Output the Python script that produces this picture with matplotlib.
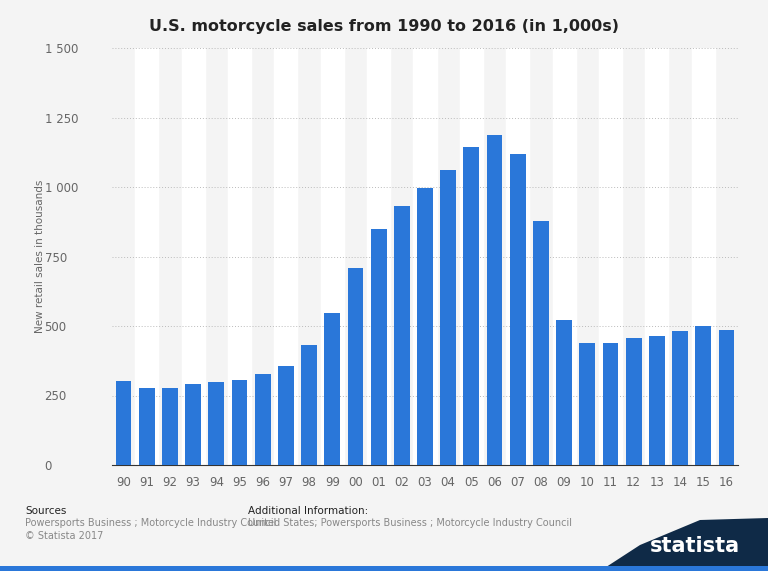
import matplotlib.pyplot as plt
import matplotlib.patches as patches

years = ['90', '91', '92', '93', '94', '95', '96', '97', '98', '99', '00', '01', '02', '03',
         '04', '05', '06', '07', '08', '09', '10', '11', '12', '13', '14', '15', '16']
sales = [301, 278, 278, 290, 300, 305, 327, 355, 430, 545, 710, 848, 932, 995,
         1060, 1145, 1187, 1118, 877, 520, 440, 440, 457, 465, 482, 500, 485]
yticks = [0, 250, 500, 750, 1000, 1250, 1500]
ylabels = ['0', '250', '500', '750', '1 000', '1 250', '1 500']

fig = plt.figure(figsize=(7.68, 5.71), dpi=100, facecolor='#f4f4f4')
ax = fig.add_axes([112/768, 1-465/571, 626/768, 417/571])
ax.set_facecolor('#f4f4f4')

x = range(len(years))
for i in x:
    if i % 2 == 1:
        ax.axvspan(i - 0.5, i + 0.5, color='white', zorder=0)
ax.bar(x, sales, width=0.68, color='#2a77d9', zorder=3)

ax.set_xlim(-0.5, len(years) - 0.5)
ax.set_ylim(0, 1500)
ax.set_yticks(yticks)
ax.set_yticklabels(ylabels, color='#666666', fontsize=8.5)
ax.set_xticks(list(x))
ax.set_xticklabels(years, color='#666666', fontsize=8.5)
ax.tick_params(length=0, pad=8)
ax.yaxis.grid(True, color='#bbbbbb', linestyle=(0, (1, 2)), linewidth=0.7, zorder=1)
for s in ['top', 'right', 'left']:
    ax.spines[s].set_visible(False)
ax.spines['bottom'].set_color('#333333')
for lab in ax.get_yticklabels():
    lab.set_horizontalalignment('left')
    lab.set_x(-0.09)
fig.text(40/768, 1-256/571, 'New retail sales in thousands', color='#666666', fontsize=7.5,
         rotation=90, ha='center', va='center')

fig.text(0.5, 1-26/571, 'U.S. motorcycle sales from 1990 to 2016 (in 1,000s)',
         ha='center', va='center', fontsize=11.5, fontweight='bold', color='#222222')

fig.text(25/768, 1-511/571, 'Sources', fontsize=7.5, color='#222222', va='center')
fig.text(25/768, 1-523/571, 'Powersports Business ; Motorcycle Industry Council',
         fontsize=7, color='#888888', va='center')
fig.text(25/768, 1-536/571, '\u00a9 Statista 2017', fontsize=7, color='#888888', va='center')
fig.text(248/768, 1-511/571, 'Additional Information:', fontsize=7.5, color='#222222', va='center')
fig.text(248/768, 1-523/571, 'United States; Powersports Business ; Motorcycle Industry Council',
         fontsize=7, color='#888888', va='center')

# logo band bottom right
band = patches.Polygon([(600/768, 0), (768/768, 0), (768/768, 1-518/571), (700/768, 1-520/571),
                        (640/768, 1-545/571)], closed=True, transform=fig.transFigure,
                       facecolor='#0f2a47', edgecolor='none')
fig.patches.append(band)
fig.patches.append(patches.Rectangle((0, 0), 1, 5/571, transform=fig.transFigure,
                                     facecolor='#2a77d9', edgecolor='none'))
fig.text(695/768, 1-546/571, 'statista', fontsize=15, fontweight='bold', color='white',
         ha='center', va='center')

fig.savefig('out.png', dpi=100, facecolor=fig.get_facecolor())
